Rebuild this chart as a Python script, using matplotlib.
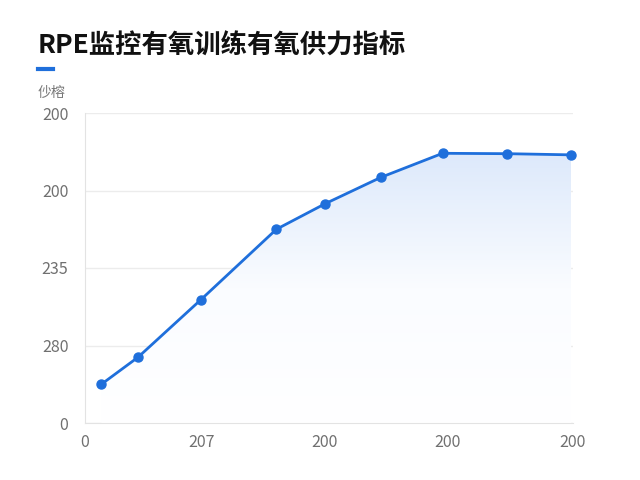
"""RPE monitoring chart - line with gradient fill."""

import numpy as np
import matplotlib
matplotlib.use("Agg")
import matplotlib.pyplot as plt
from matplotlib.patches import Polygon

plt.rcParams['font.family'] = ['Noto Sans CJK SC', 'DejaVu Sans']

# data
x_values = [0.115, 0.418, 0.934, 1.557, 1.959, 2.418, 2.926, 3.459, 3.984]
y_values = [0.50, 0.85, 1.59, 2.50, 2.83, 3.17, 3.48, 3.475, 3.46]
x_ticks = [-0.02, 0.94, 1.95, 2.97, 4.0]
x_tick_labels = ["0", "207", "200", "200", "200"]
y_ticks = [0, 1, 2, 3, 4]
y_tick_labels = ["0", "280", "235", "200", "200"]

title = "RPE监控有氧训练有氧供力指标"
y_label = "仯榕"

line_color = "#1f6fdb"

fig = plt.figure(figsize=(6.4, 4.8), dpi=100)
fig.patch.set_facecolor("white")
ax = fig.add_axes([85 / 640, 1 - 423 / 480, (573 - 85) / 640, (423 - 113) / 480])

# gradient fill under the line
xs = np.array(x_values)
ys = np.array(y_values)
grad = np.linspace(0, 1, 256).reshape(-1, 1)
cmap = matplotlib.colors.LinearSegmentedColormap.from_list(
    "fill", ["#ffffff", "#fafcff", "#dde9fb"])
img = ax.imshow(grad, extent=[xs[0], xs[-1], 0, ys.max()], origin="lower",
                aspect="auto", cmap=cmap, zorder=1)
verts = np.vstack([[xs[0], 0], np.column_stack([xs, ys]), [xs[-1], 0]])
clip = Polygon(verts, closed=True, transform=ax.transData,
               facecolor="none", edgecolor="none")
ax.add_patch(clip)
img.set_clip_path(clip)

ax.plot(xs, ys, color=line_color, linewidth=2.0, marker="o",
        markersize=6.5, zorder=3, clip_on=False)

ax.set_xlim(0, 4)
ax.set_ylim(0, 4)
ax.set_xticks(x_ticks)
ax.set_xticklabels(x_tick_labels)
ax.set_yticks(y_ticks)
ax.set_yticklabels(y_tick_labels)
ax.tick_params(length=0, labelsize=11.5, labelcolor="#707070")
ax.tick_params(axis="x", pad=8)
ax.tick_params(axis="y", pad=12)

ax.grid(axis="y", color="#ececec", linewidth=1)
ax.set_axisbelow(True)
for side in ["top", "right"]:
    ax.spines[side].set_visible(False)
for side in ["left", "bottom"]:
    ax.spines[side].set_color("#e3e3e3")

# title, accent bar and axis name
fig.text(38 / 640, 1 - 46 / 480, title, fontsize=19, fontweight="bold",
         color="#111111", va="center", ha="left")
fig.add_artist(plt.Line2D([38 / 640, 53 / 640], [1 - 69 / 480, 1 - 69 / 480],
                          color="#1f6fdb", linewidth=3))
fig.text(38 / 640, 1 - 93 / 480, y_label, fontsize=10, color="#777777",
         va="center", ha="left")

fig.savefig("out.png", dpi=100, facecolor="white")
